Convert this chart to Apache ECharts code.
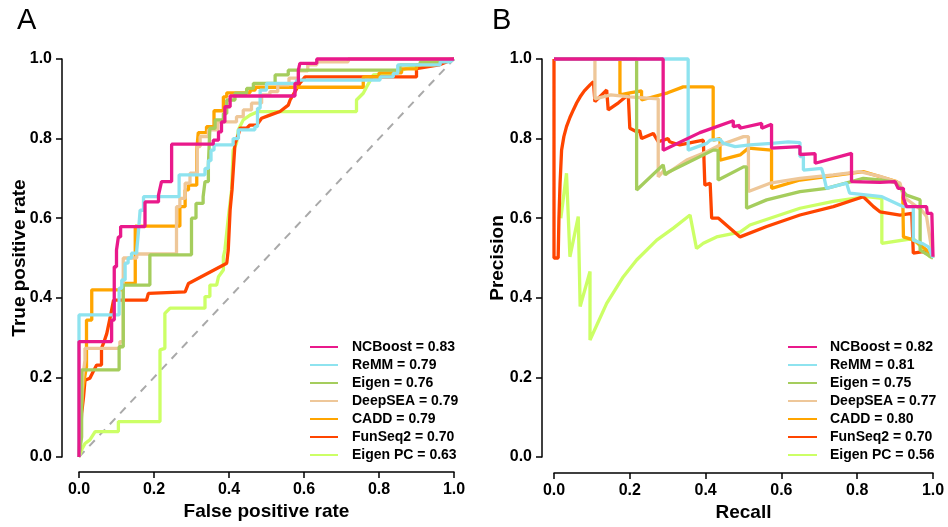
<!DOCTYPE html>
<html>
<head>
<meta charset="utf-8">
<script src="https://cdn.jsdelivr.net/npm/echarts@6/dist/echarts.min.js"></script>
<style>html,body{margin:0;padding:0;background:#fff;}#c{width:948px;height:527px;}</style>
</head>
<body>
<div id="c"></div>
<script>
// ---------- data ----------
const seriesNames = ['NCBoost', 'ReMM', 'Eigen', 'DeepSEA', 'CADD', 'FunSeq2', 'Eigen PC'];
const rocAUC = ['0.83', '0.79', '0.76', '0.79', '0.79', '0.70', '0.63'];
const prAUC  = ['0.82', '0.81', '0.75', '0.77', '0.80', '0.70', '0.56'];
const tickValues = [0, 0.2, 0.4, 0.6, 0.8, 1.0];
const diagonal = [[0, 0], [1, 1]];

// ROC curves [FPR, TPR]
const rocNCBoost = [[0,0],[0,0.29],[0.087,0.29],[0.087,0.344],[0.094,0.344],[0.094,0.478],[0.1,0.478],[0.1,0.52],[0.105,0.52],[0.105,0.553],[0.111,0.553],[0.111,0.579],[0.176,0.579],[0.176,0.641],[0.212,0.641],[0.212,0.658],[0.216,0.658],[0.216,0.675],[0.22,0.675],[0.22,0.692],[0.247,0.692],[0.247,0.786],[0.358,0.786],[0.358,0.796],[0.372,0.796],[0.372,0.817],[0.38,0.817],[0.38,0.842],[0.389,0.842],[0.389,0.88],[0.403,0.88],[0.403,0.907],[0.576,0.907],[0.576,0.939],[0.585,0.939],[0.585,0.972],[0.589,0.972],[0.589,0.989],[0.634,0.989],[0.634,1],[1,1]];
const rocReMM = [[0,0],[0,0.357],[0.107,0.357],[0.107,0.424],[0.114,0.424],[0.114,0.445],[0.123,0.445],[0.123,0.487],[0.131,0.487],[0.131,0.5],[0.14,0.5],[0.14,0.512],[0.154,0.512],[0.154,0.52],[0.158,0.52],[0.158,0.56],[0.163,0.56],[0.163,0.62],[0.172,0.62],[0.172,0.654],[0.267,0.654],[0.267,0.709],[0.336,0.709],[0.336,0.725],[0.345,0.725],[0.345,0.745],[0.352,0.745],[0.352,0.771],[0.36,0.771],[0.36,0.784],[0.411,0.784],[0.411,0.8],[0.425,0.8],[0.425,0.822],[0.469,0.822],[0.469,0.83],[0.476,0.83],[0.476,0.876],[0.483,0.876],[0.483,0.922],[0.5,0.922],[0.5,0.939],[0.58,0.939],[0.58,0.947],[0.803,0.947],[0.803,0.955],[0.838,0.955],[0.838,0.964],[0.85,0.964],[0.85,0.985],[0.963,0.985],[0.963,0.993],[0.99,0.993],[1,1]];
const rocEigen = [[0,0],[0.007,0.05],[0.007,0.219],[0.107,0.219],[0.107,0.277],[0.118,0.277],[0.118,0.432],[0.189,0.432],[0.189,0.508],[0.3,0.508],[0.3,0.6],[0.312,0.6],[0.312,0.637],[0.331,0.637],[0.331,0.654],[0.336,0.654],[0.336,0.692],[0.345,0.692],[0.345,0.734],[0.349,0.734],[0.349,0.826],[0.363,0.826],[0.363,0.847],[0.385,0.847],[0.385,0.863],[0.394,0.863],[0.394,0.897],[0.416,0.897],[0.416,0.914],[0.447,0.914],[0.447,0.926],[0.465,0.926],[0.465,0.939],[0.523,0.939],[0.523,0.96],[0.558,0.96],[0.558,0.972],[0.856,0.972],[0.856,0.985],[0.91,0.985],[0.91,0.993],[0.95,0.993],[1,1]];
const rocDeepSEA = [[0,0],[0.005,0.1],[0.01,0.2],[0.016,0.244],[0.016,0.273],[0.109,0.273],[0.109,0.29],[0.118,0.29],[0.118,0.5],[0.154,0.5],[0.154,0.51],[0.26,0.51],[0.26,0.629],[0.269,0.629],[0.269,0.65],[0.283,0.65],[0.283,0.688],[0.296,0.688],[0.296,0.713],[0.315,0.713],[0.315,0.78],[0.323,0.78],[0.323,0.805],[0.345,0.805],[0.345,0.822],[0.37,0.822],[0.37,0.842],[0.42,0.842],[0.42,0.855],[0.438,0.855],[0.438,0.872],[0.46,0.872],[0.46,0.889],[0.487,0.889],[0.487,0.91],[0.509,0.91],[0.509,0.918],[0.53,0.918],[0.53,0.935],[0.56,0.935],[0.56,0.952],[0.585,0.952],[0.585,0.97],[0.61,0.97],[0.61,0.985],[0.634,0.985],[0.634,0.993],[0.718,0.993],[0.718,1],[1,1]];
const rocCADD = [[0,0],[0.005,0.1],[0.01,0.17],[0.015,0.2],[0.02,0.227],[0.02,0.344],[0.034,0.344],[0.034,0.42],[0.118,0.42],[0.118,0.436],[0.15,0.436],[0.15,0.58],[0.269,0.58],[0.269,0.629],[0.283,0.629],[0.283,0.671],[0.292,0.671],[0.292,0.683],[0.314,0.683],[0.314,0.771],[0.318,0.771],[0.318,0.815],[0.34,0.815],[0.34,0.83],[0.36,0.83],[0.36,0.87],[0.385,0.87],[0.385,0.905],[0.394,0.905],[0.394,0.915],[0.456,0.915],[0.456,0.922],[0.47,0.922],[0.47,0.929],[0.758,0.929],[0.758,0.955],[0.8,0.955],[0.8,0.965],[0.86,0.965],[0.86,0.975],[0.9,0.975],[0.9,0.985],[0.95,0.985],[0.95,0.995],[1,1]];
const rocFunSeq2 = [[0,0],[0.004,0.05],[0.007,0.11],[0.012,0.15],[0.016,0.193],[0.029,0.198],[0.038,0.215],[0.047,0.231],[0.06,0.231],[0.06,0.273],[0.067,0.29],[0.074,0.31],[0.083,0.35],[0.092,0.394],[0.18,0.394],[0.185,0.411],[0.283,0.415],[0.292,0.436],[0.394,0.487],[0.398,0.52],[0.403,0.621],[0.408,0.671],[0.412,0.671],[0.416,0.788],[0.425,0.81],[0.429,0.826],[0.447,0.826],[0.456,0.834],[0.474,0.834],[0.487,0.851],[0.509,0.859],[0.536,0.868],[0.558,0.884],[0.563,0.897],[0.576,0.918],[0.589,0.939],[0.603,0.955],[0.9,0.955],[0.9,0.976],[0.96,0.985],[1,1]];
const rocEigenPC = [[0,0],[0.007,0.018],[0.016,0.034],[0.029,0.043],[0.043,0.064],[0.105,0.064],[0.105,0.089],[0.216,0.089],[0.216,0.269],[0.229,0.273],[0.229,0.361],[0.243,0.374],[0.336,0.374],[0.336,0.403],[0.349,0.403],[0.349,0.432],[0.367,0.432],[0.372,0.453],[0.385,0.47],[0.385,0.503],[0.389,0.52],[0.398,0.6],[0.407,0.671],[0.411,0.771],[0.42,0.788],[0.425,0.822],[0.438,0.847],[0.456,0.859],[0.478,0.868],[0.74,0.868],[0.74,0.897],[0.758,0.914],[0.767,0.93],[0.785,0.96],[0.838,0.964],[0.87,0.975],[0.92,0.985],[1,1]];

// PR curves [Recall, Precision]
const prNCBoost = [[0,1],[0.288,1],[0.288,0.771],[0.385,0.815],[0.473,0.845],[0.473,0.83],[0.49,0.833],[0.49,0.826],[0.548,0.838],[0.548,0.826],[0.574,0.836],[0.574,0.776],[0.649,0.78],[0.649,0.76],[0.689,0.762],[0.689,0.738],[0.785,0.763],[0.785,0.692],[0.86,0.69],[0.9,0.692],[0.908,0.675],[0.922,0.675],[0.922,0.65],[0.93,0.629],[0.983,0.629],[0.985,0.612],[0.997,0.612],[1,0.503]];
const prReMM = [[0,1],[0.354,1],[0.354,0.771],[0.403,0.788],[0.412,0.796],[0.438,0.798],[0.447,0.788],[0.478,0.78],[0.517,0.784],[0.574,0.788],[0.618,0.792],[0.649,0.79],[0.649,0.755],[0.658,0.755],[0.658,0.721],[0.706,0.725],[0.711,0.709],[0.719,0.675],[0.772,0.688],[0.78,0.663],[0.865,0.654],[0.922,0.629],[0.948,0.629],[0.948,0.545],[0.975,0.535],[0.988,0.528],[1,0.5]];
const prEigen = [[0,1],[0.218,1],[0.218,0.671],[0.288,0.734],[0.293,0.709],[0.3,0.715],[0.42,0.771],[0.433,0.771],[0.433,0.696],[0.5,0.729],[0.508,0.729],[0.508,0.625],[0.561,0.646],[0.649,0.667],[0.719,0.675],[0.816,0.7],[0.86,0.696],[0.9,0.69],[0.93,0.658],[0.966,0.646],[0.966,0.52],[1,0.5]];
const prDeepSEA = [[0,1],[0.108,1],[0.108,0.9],[0.15,0.91],[0.2,0.905],[0.275,0.9],[0.275,0.704],[0.29,0.72],[0.295,0.71],[0.35,0.746],[0.403,0.767],[0.438,0.784],[0.5,0.805],[0.513,0.805],[0.513,0.667],[0.57,0.688],[0.649,0.7],[0.737,0.709],[0.807,0.717],[0.86,0.705],[0.913,0.688],[0.922,0.654],[0.97,0.62],[0.983,0.604],[1,0.5]];
const prCADD = [[0,1],[0.174,1],[0.174,0.91],[0.2,0.915],[0.231,0.92],[0.231,0.897],[0.3,0.915],[0.341,0.93],[0.42,0.93],[0.42,0.796],[0.438,0.8],[0.438,0.746],[0.491,0.759],[0.513,0.776],[0.574,0.771],[0.574,0.675],[0.649,0.696],[0.816,0.717],[0.904,0.692],[0.92,0.67],[0.922,0.553],[0.95,0.545],[0.983,0.52],[1,0.5]];
const prFunSeq2 = [[0,1],[0,0.5],[0.011,0.5],[0.013,0.6],[0.016,0.688],[0.02,0.771],[0.026,0.805],[0.033,0.83],[0.042,0.853],[0.051,0.872],[0.06,0.89],[0.069,0.905],[0.08,0.92],[0.095,0.935],[0.104,0.943],[0.108,0.893],[0.139,0.922],[0.143,0.872],[0.17,0.89],[0.196,0.91],[0.2,0.826],[0.218,0.817],[0.226,0.82],[0.231,0.8],[0.262,0.813],[0.275,0.792],[0.301,0.8],[0.305,0.792],[0.332,0.784],[0.394,0.796],[0.398,0.683],[0.412,0.688],[0.416,0.6],[0.434,0.6],[0.491,0.553],[0.561,0.579],[0.649,0.608],[0.737,0.629],[0.816,0.654],[0.843,0.629],[0.86,0.616],[0.913,0.608],[0.944,0.612],[0.948,0.512],[0.974,0.516],[1,0.503]];
const prEigenPC = [[0.018,0.6],[0.033,0.713],[0.042,0.503],[0.064,0.604],[0.069,0.378],[0.095,0.466],[0.095,0.294],[0.139,0.386],[0.183,0.453],[0.218,0.495],[0.271,0.545],[0.315,0.575],[0.359,0.608],[0.376,0.524],[0.394,0.537],[0.429,0.553],[0.491,0.565],[0.517,0.583],[0.649,0.625],[0.737,0.642],[0.825,0.654],[0.865,0.65],[0.865,0.537],[0.948,0.549],[0.992,0.503],[1,0.5]];

const colors = ['#E9198B', '#8EE3EF', '#A5CD5D', '#EEC799', '#FFA500', '#FF4500', '#CCFF66'];
const rocData = [rocNCBoost, rocReMM, rocEigen, rocDeepSEA, rocCADD, rocFunSeq2, rocEigenPC];
const prData = [prNCBoost, prReMM, prEigen, prDeepSEA, prCADD, prFunSeq2, prEigenPC];

// ---------- chart ----------
const FONT = 'Liberation Sans, Arial, Helvetica, sans-serif';
const chart = echarts.init(document.getElementById('c'), null, {renderer: 'canvas'});

const namesA = seriesNames.map((n, i) => n + ' = ' + rocAUC[i]);
const namesB = seriesNames.map((n, i) => n + ' = ' + prAUC[i]);

function makeAxis(extra) {
  return Object.assign({
    type: 'value', min: 0, max: 1, interval: 0.2,
    splitLine: {show: false},
    axisLine: {show: true, onZero: false, lineStyle: {color: '#000', width: 1.5}},
    axisTick: {show: true, inside: false, length: 6, lineStyle: {color: '#000', width: 1.5}},
    axisLabel: {
      color: '#000', fontFamily: FONT, fontWeight: 'bold', fontSize: 16, margin: 10,
      formatter: v => tickValues.includes(Math.round(v * 10) / 10) ? v.toFixed(1) : ''
    },
    nameLocation: 'middle',
    nameMoveOverlap: false,
    nameTextStyle: {color: '#000', fontFamily: FONT, fontWeight: 'bold', fontSize: 19}
  }, extra);
}

const series = [];
series.push({
  type: 'line', xAxisIndex: 0, yAxisIndex: 0, data: diagonal, silent: true,
  showSymbol: false, symbol: 'none',
  lineStyle: {color: '#A9A9A9', width: 2, type: [8, 7]}, z: 1
});
for (let i = seriesNames.length - 1; i >= 0; i--) {
  series.push({
    name: namesA[i], type: 'line', xAxisIndex: 0, yAxisIndex: 0,
    data: rocData[i], showSymbol: false, symbol: 'none', clip: false,
    color: colors[i], lineStyle: {color: colors[i], width: 3.3}, z: 2 + (seriesNames.length - i)
  });
  series.push({
    name: namesB[i], type: 'line', xAxisIndex: 1, yAxisIndex: 1,
    data: prData[i], showSymbol: false, symbol: 'none', clip: false,
    color: colors[i], lineStyle: {color: colors[i], width: 3.3}, z: 2 + (seriesNames.length - i)
  });
}

const legendText = {color: '#000', fontFamily: FONT, fontWeight: 'bold', fontSize: 14, lineHeight: 18};

chart.setOption({
  animation: false,
  backgroundColor: '#fff',
  title: [
    {text: 'A', left: 17, top: 6, padding: 0, textStyle: {fontFamily: FONT, fontWeight: 'normal', fontSize: 29, color: '#000'}},
    {text: 'B', left: 492, top: 6, padding: 0, textStyle: {fontFamily: FONT, fontWeight: 'normal', fontSize: 29, color: '#000'}}
  ],
  grid: [
    {left: 79, right: 494, top: 59, bottom: 70},
    {left: 554, right: 15, top: 59, bottom: 70}
  ],
  xAxis: [
    makeAxis({gridIndex: 0, offset: 15, name: 'False positive rate', nameGap: 30}),
    makeAxis({gridIndex: 1, offset: 16, name: 'Recall', nameGap: 30})
  ],
  yAxis: [
    makeAxis({gridIndex: 0, offset: 17, name: 'True positive rate', nameGap: 33}),
    makeAxis({gridIndex: 1, offset: 12, name: 'Precision', nameGap: 35})
  ],
  legend: [
    {orient: 'vertical', left: 310, top: 338, padding: 0, itemWidth: 28, itemHeight: 2, itemGap: 0,
     icon: 'rect', selectedMode: false, data: namesA,
     textStyle: Object.assign({}, legendText, {padding: [0, 0, 0, 9]})},
    {orient: 'vertical', left: 788, top: 338, padding: 0, itemWidth: 29, itemHeight: 2, itemGap: 0,
     icon: 'rect', selectedMode: false, data: namesB,
     textStyle: Object.assign({}, legendText, {padding: [0, 0, 0, 8]})}
  ],
  series: series
});
</script>
</body>
</html>
